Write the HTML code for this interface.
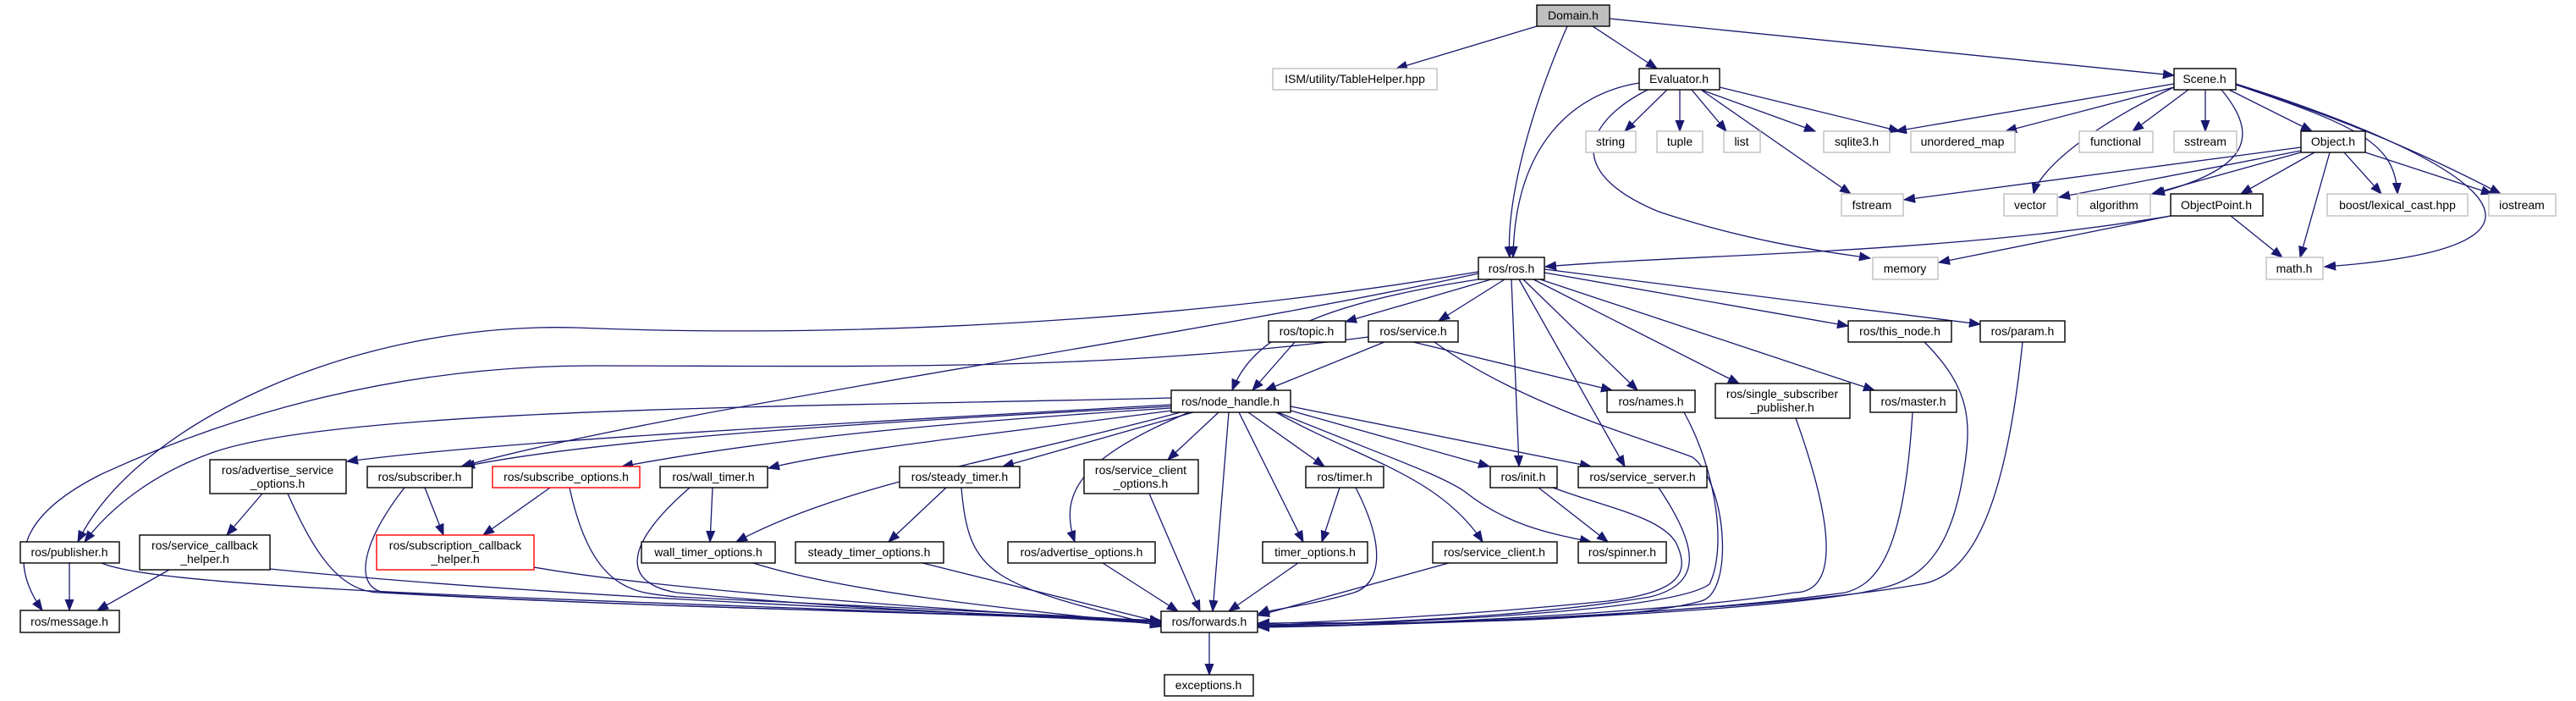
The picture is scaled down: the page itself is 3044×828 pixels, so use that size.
<!DOCTYPE html>
<html><head><meta charset="utf-8"><style>
html,body{margin:0;padding:0;background:#fff;}
svg{display:block;}
text{font-family:"Liberation Sans",sans-serif;font-size:14px;fill:#000;text-anchor:middle;}
.n{fill:#fff;stroke:#000;stroke-width:1.4;}
.g{fill:#fff;stroke:#bfbfbf;stroke-width:1.4;}
.r{fill:#fff;stroke:#ff0000;stroke-width:1.4;}
.e{fill:none;stroke:#191970;stroke-width:1.3;marker-end:url(#a);}
</style></head><body>
<svg width="3044" height="828" viewBox="0 0 3044 828" xmlns="http://www.w3.org/2000/svg">
<defs><marker id="a" markerUnits="userSpaceOnUse" markerWidth="14" markerHeight="12" refX="13" refY="6" orient="auto"><path d="M0,1 L13,6 L0,11 Z" fill="#191970" stroke="#191970"/></marker></defs>
<g>
<path class="e" d="M1816,31 L1650,81"/>
<path class="e" d="M1852,31 C1800,150 1780,250 1784,304"/>
<path class="e" d="M1882,31 L1958,81"/>
<path class="e" d="M1902,22 L2569,89"/>
<path class="e" d="M1970,106 L1920,155"/>
<path class="e" d="M1985,106 L1985,155"/>
<path class="e" d="M1999,106 L2040,155"/>
<path class="e" d="M2010,106 L2145,155"/>
<path class="e" d="M2032,103 L2245,155"/>
<path class="e" d="M2010,106 L2187,229"/>
<path class="e" d="M1947,106 C1880,140 1840,200 1960,250 C2080,290 2180,300 2210,305"/>
<path class="e" d="M1937,98 C1860,110 1790,170 1788,304"/>
<path class="e" d="M2569,99 L2240,155"/>
<path class="e" d="M2569,103 L2370,155"/>
<path class="e" d="M2569,103 C2470,150 2410,200 2403,229"/>
<path class="e" d="M2586,106 L2520,155"/>
<path class="e" d="M2606,106 L2606,155"/>
<path class="e" d="M2625,106 C2670,160 2660,200 2545,229"/>
<path class="e" d="M2634,106 L2732,155"/>
<path class="e" d="M2642,100 C2790,150 2830,170 2833,229"/>
<path class="e" d="M2642,100 C2800,150 2900,200 2955,229"/>
<path class="e" d="M2642,99 C2900,180 3100,290 2747,315"/>
<path class="e" d="M2719,174 L2250,236"/>
<path class="e" d="M2719,178 L2433,233"/>
<path class="e" d="M2719,180 L2543,229"/>
<path class="e" d="M2735,180 L2648,229"/>
<path class="e" d="M2753,180 L2718,304"/>
<path class="e" d="M2770,180 L2814,229"/>
<path class="e" d="M2795,180 L2945,229"/>
<path class="e" d="M2565,255 C2300,300 2000,300 1826,315"/>
<path class="e" d="M2565,255 L2291,310"/>
<path class="e" d="M2636,255 L2697,304"/>
<path class="e" d="M1747,321 C1400,380 1000,400 680,387 C420,380 160,500 92,640"/>
<path class="e" d="M1617,398 C1300,440 1000,432 700,432 C450,432 250,500 120,560 C40,600 0,650 50,721"/>
<path class="e" d="M1384,470 C1000,480 400,480 250,535 C180,560 130,600 100,640"/>
<path class="e" d="M1747,323 C1400,400 800,480 545,551"/>
<path class="e" d="M1747,330 C1550,360 1480,400 1456,461"/>
<path class="e" d="M1762,330 L1590,380"/>
<path class="e" d="M1778,330 L1700,379"/>
<path class="e" d="M1786,330 L1795,551"/>
<path class="e" d="M1795,330 L1920,551"/>
<path class="e" d="M1800,330 L1935,461"/>
<path class="e" d="M1812,330 L2055,453"/>
<path class="e" d="M1820,330 L2215,461"/>
<path class="e" d="M1825,322 L2184,385"/>
<path class="e" d="M1825,318 L2340,383"/>
<path class="e" d="M1530,404 L1480,461"/>
<path class="e" d="M1636,404 L1495,461"/>
<path class="e" d="M1670,404 L1905,461"/>
<path class="e" d="M1695,404 C1800,480 1950,520 2000,540 C2040,570 2050,700 2010,710 C1900,740 1600,735 1487,736"/>
<path class="e" d="M1384,478 C1000,500 600,520 410,545"/>
<path class="e" d="M1384,480 C1000,500 700,520 548,551"/>
<path class="e" d="M1384,482 C1100,500 900,520 735,551"/>
<path class="e" d="M1384,485 C1200,510 1000,530 908,553"/>
<path class="e" d="M1395,487 C1200,540 1000,570 870,640"/>
<path class="e" d="M1410,487 L1185,551"/>
<path class="e" d="M1440,487 L1380,543"/>
<path class="e" d="M1405,487 C1280,540 1250,580 1270,640"/>
<path class="e" d="M1452,487 L1433,722"/>
<path class="e" d="M1464,487 L1540,640"/>
<path class="e" d="M1475,487 L1565,551"/>
<path class="e" d="M1508,487 C1600,540 1700,560 1752,640"/>
<path class="e" d="M1510,487 C1640,540 1700,560 1730,580 C1780,620 1830,630 1880,640"/>
<path class="e" d="M1525,485 L1760,551"/>
<path class="e" d="M1525,480 L1880,551"/>
<path class="e" d="M310,583 L268,632"/>
<path class="e" d="M340,583 C370,650 400,700 450,700 C800,720 1200,725 1372,733"/>
<path class="e" d="M200,673 L115,721"/>
<path class="e" d="M319,672 C600,700 1000,720 1372,733"/>
<path class="e" d="M82,665 L82,721"/>
<path class="e" d="M120,665 C200,700 800,710 1372,735"/>
<path class="e" d="M502,576 L524,632"/>
<path class="e" d="M478,576 C420,650 420,700 460,700 C800,720 1200,725 1372,735"/>
<path class="e" d="M650,576 L571,632"/>
<path class="e" d="M673,576 C700,700 750,700 800,705 C1100,720 1300,728 1372,735"/>
<path class="e" d="M631,670 C800,700 1200,725 1372,735"/>
<path class="e" d="M842,576 L839,640"/>
<path class="e" d="M815,576 C730,650 740,690 800,700 C1000,720 1250,728 1372,737"/>
<path class="e" d="M890,665 C1000,700 1200,720 1372,738"/>
<path class="e" d="M1118,576 L1050,640"/>
<path class="e" d="M1136,576 C1145,680 1170,690 1372,740"/>
<path class="e" d="M1090,665 L1372,735"/>
<path class="e" d="M1303,665 L1392,722"/>
<path class="e" d="M1358,583 L1418,722"/>
<path class="e" d="M1583,576 L1562,640"/>
<path class="e" d="M1602,576 C1640,650 1630,690 1600,700 C1550,715 1500,720 1487,725"/>
<path class="e" d="M1534,665 L1452,722"/>
<path class="e" d="M1712,665 L1487,727"/>
<path class="e" d="M1818,576 L1900,640"/>
<path class="e" d="M1835,576 C1900,600 1960,610 1980,640 C2000,680 1980,700 1900,710 C1700,730 1550,735 1487,737"/>
<path class="e" d="M1960,576 C2010,650 2010,690 1950,705 C1800,730 1600,737 1487,738"/>
<path class="e" d="M1990,487 C2030,560 2040,650 2020,690 C1980,720 1700,735 1487,739"/>
<path class="e" d="M2122,494 C2160,600 2180,700 2120,700 C2000,720 1700,738 1487,740"/>
<path class="e" d="M2260,487 C2250,650 2220,690 2180,700 C2000,725 1700,738 1487,740"/>
<path class="e" d="M2274,404 C2330,460 2330,500 2320,560 C2300,680 2250,690 2200,700 C2050,725 1700,738 1487,740"/>
<path class="e" d="M2390,404 C2370,600 2330,680 2270,690 C2100,720 1700,738 1487,741"/>
<path class="e" d="M1429,747 L1429,797"/>
</g>
<g>
<rect x="1816" y="6" width="86" height="25" fill="#bfbfbf" stroke="#000" stroke-width="1.4"/><text x="1859" y="23">Domain.h</text>
<rect class="g" x="1504" y="81" width="194" height="25"/><text x="1601" y="98">ISM/utility/TableHelper.hpp</text>
<rect class="n" x="1937" y="81" width="95" height="25"/><text x="1984" y="98">Evaluator.h</text>
<rect class="n" x="2569" y="81" width="73" height="25"/><text x="2605" y="98">Scene.h</text>
<rect class="g" x="1874" y="155" width="59" height="25"/><text x="1903" y="172">string</text>
<rect class="g" x="1958" y="155" width="54" height="25"/><text x="1985" y="172">tuple</text>
<rect class="g" x="2037" y="155" width="43" height="25"/><text x="2058" y="172">list</text>
<rect class="g" x="2155" y="155" width="78" height="25"/><text x="2194" y="172">sqlite3.h</text>
<rect class="g" x="2258" y="155" width="123" height="25"/><text x="2319" y="172">unordered_map</text>
<rect class="g" x="2457" y="155" width="87" height="25"/><text x="2500" y="172">functional</text>
<rect class="g" x="2569" y="155" width="74" height="25"/><text x="2606" y="172">sstream</text>
<rect class="n" x="2719" y="155" width="76" height="25"/><text x="2757" y="172">Object.h</text>
<rect class="g" x="2176" y="229" width="73" height="26"/><text x="2212" y="247">fstream</text>
<rect class="g" x="2368" y="229" width="63" height="26"/><text x="2399" y="247">vector</text>
<rect class="g" x="2455" y="229" width="86" height="26"/><text x="2498" y="247">algorithm</text>
<rect class="n" x="2565" y="229" width="109" height="26"/><text x="2619" y="247">ObjectPoint.h</text>
<rect class="g" x="2750" y="229" width="166" height="26"/><text x="2833" y="247">boost/lexical_cast.hpp</text>
<rect class="g" x="2941" y="229" width="79" height="26"/><text x="2980" y="247">iostream</text>
<rect class="n" x="1747" y="304" width="78" height="26"/><text x="1786" y="322">ros/ros.h</text>
<rect class="g" x="2213" y="304" width="77" height="26"/><text x="2251" y="322">memory</text>
<rect class="g" x="2678" y="304" width="67" height="26"/><text x="2711" y="322">math.h</text>
<rect class="n" x="1499" y="379" width="91" height="25"/><text x="1544" y="396">ros/topic.h</text>
<rect class="n" x="1617" y="379" width="106" height="25"/><text x="1670" y="396">ros/service.h</text>
<rect class="n" x="2184" y="379" width="122" height="25"/><text x="2245" y="396">ros/this_node.h</text>
<rect class="n" x="2340" y="379" width="100" height="25"/><text x="2390" y="396">ros/param.h</text>
<rect class="n" x="1384" y="461" width="141" height="26"/><text x="1454" y="479">ros/node_handle.h</text>
<rect class="n" x="1899" y="461" width="104" height="26"/><text x="1951" y="479">ros/names.h</text>
<rect class="n" x="2027" y="453" width="159" height="41"/><text x="2106" y="470">ros/single_subscriber</text><text x="2106" y="486">_publisher.h</text>
<rect class="n" x="2210" y="461" width="102" height="26"/><text x="2261" y="479">ros/master.h</text>
<rect class="n" x="248" y="543" width="161" height="40"/><text x="328" y="560">ros/advertise_service</text><text x="328" y="576">_options.h</text>
<rect class="n" x="434" y="551" width="124" height="25"/><text x="496" y="568">ros/subscriber.h</text>
<rect class="r" x="582" y="551" width="174" height="25"/><text x="669" y="568">ros/subscribe_options.h</text>
<rect class="n" x="780" y="551" width="127" height="25"/><text x="843" y="568">ros/wall_timer.h</text>
<rect class="n" x="1063" y="551" width="142" height="25"/><text x="1134" y="568">ros/steady_timer.h</text>
<rect class="n" x="1281" y="543" width="135" height="40"/><text x="1348" y="560">ros/service_client</text><text x="1348" y="576">_options.h</text>
<rect class="n" x="1543" y="551" width="92" height="25"/><text x="1589" y="568">ros/timer.h</text>
<rect class="n" x="1761" y="551" width="79" height="25"/><text x="1800" y="568">ros/init.h</text>
<rect class="n" x="1865" y="551" width="152" height="25"/><text x="1941" y="568">ros/service_server.h</text>
<rect class="n" x="24" y="640" width="117" height="25"/><text x="82" y="657">ros/publisher.h</text>
<rect class="n" x="165" y="632" width="154" height="41"/><text x="242" y="649">ros/service_callback</text><text x="242" y="665">_helper.h</text>
<rect class="r" x="445" y="632" width="186" height="41"/><text x="538" y="649">ros/subscription_callback</text><text x="538" y="665">_helper.h</text>
<rect class="n" x="758" y="640" width="158" height="25"/><text x="837" y="657">wall_timer_options.h</text>
<rect class="n" x="940" y="640" width="175" height="25"/><text x="1027" y="657">steady_timer_options.h</text>
<rect class="n" x="1191" y="640" width="174" height="25"/><text x="1278" y="657">ros/advertise_options.h</text>
<rect class="n" x="1492" y="640" width="124" height="25"/><text x="1554" y="657">timer_options.h</text>
<rect class="n" x="1693" y="640" width="147" height="25"/><text x="1766" y="657">ros/service_client.h</text>
<rect class="n" x="1865" y="640" width="104" height="25"/><text x="1917" y="657">ros/spinner.h</text>
<rect class="n" x="24" y="721" width="117" height="26"/><text x="82" y="739">ros/message.h</text>
<rect class="n" x="1372" y="722" width="114" height="25"/><text x="1429" y="739">ros/forwards.h</text>
<rect class="n" x="1376" y="797" width="105" height="25"/><text x="1428" y="814">exceptions.h</text>
</g>
</svg>
</body></html>
